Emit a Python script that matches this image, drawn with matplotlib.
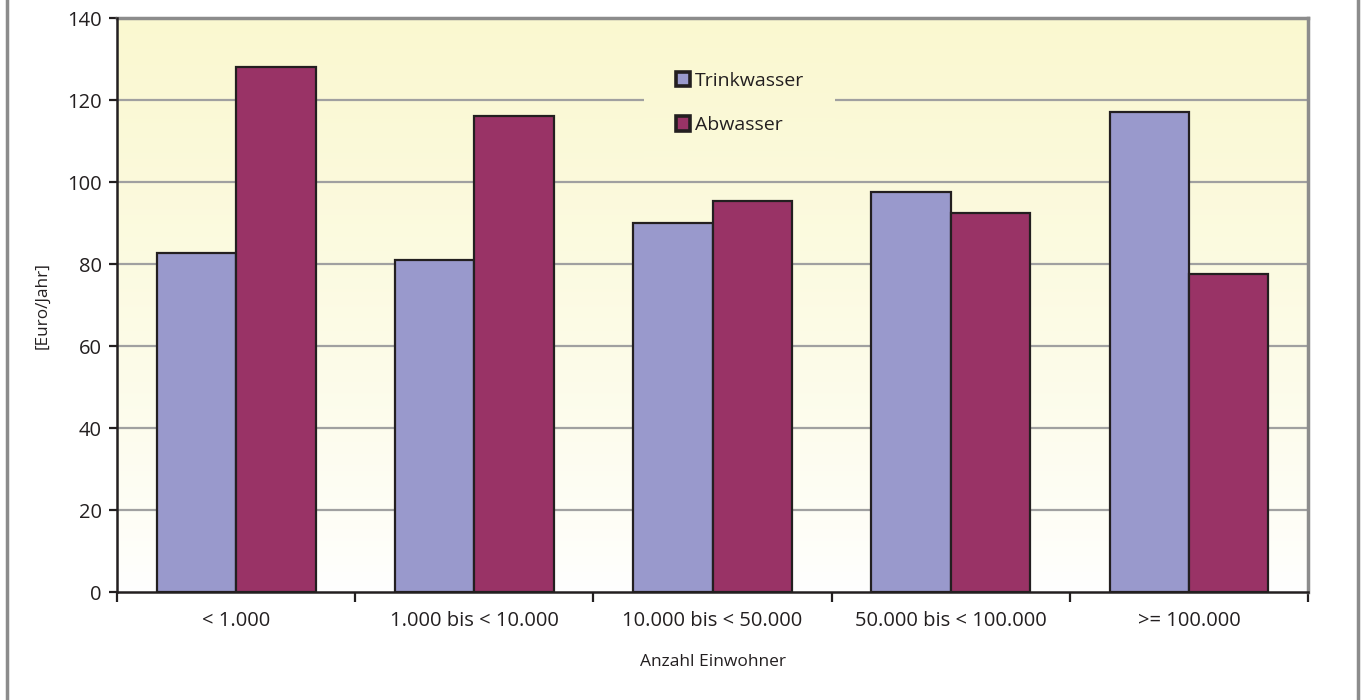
import numpy as np
import matplotlib
matplotlib.use('Agg')
import matplotlib.pyplot as plt
from matplotlib.lines import Line2D

categories = ['< 1.000', '1.000 bis < 10.000', '10.000 bis < 50.000',
              '50.000 bis < 100.000', '>= 100.000']
trinkwasser = [82.8, 81.0, 90.0, 97.6, 117.1]
abwasser = [128.1, 116.1, 95.4, 92.4, 77.6]
yticks = [0, 20, 40, 60, 80, 100, 120, 140]

plt.rcParams['font.family'] = ['Open Sans', 'DejaVu Sans']

fig = plt.figure(figsize=(13.63, 7.0), dpi=100)
ax = fig.add_axes([117 / 1363, 1 - 592 / 700, (1308 - 117) / 1363, (592 - 18) / 700])

n = len(categories)
x = np.arange(n)
w = 1 / 3
ymax = 140

# background gradient: pale yellow at top -> white at bottom
top = np.array([250, 248, 208]) / 255
bot = np.array([255, 255, 255]) / 255


def gradient(y0, y1):
    f = np.linspace(y0, y1, 256) / ymax
    return bot + (top - bot) * (f ** 0.8)[:, None, None]


ax.imshow(gradient(0, ymax), extent=[-0.5, n - 0.5, 0, ymax], origin='lower',
          aspect='auto', zorder=0)

for yv in yticks[1:]:
    ax.axhline(yv, color='#a0a0a0', lw=1.6, zorder=1)

ax.bar(x - w / 2, trinkwasser, w, color='#9999cc', edgecolor='#231f20', lw=1.6,
       zorder=3, label='Trinkwasser')
ax.bar(x + w / 2, abwasser, w, color='#993366', edgecolor='#231f20', lw=1.6,
       zorder=3, label='Abwasser')

ax.set_xlim(-0.5, n - 0.5)
ax.set_ylim(0, ymax)
ax.set_yticks(yticks)
ax.set_xticks(np.arange(n + 1) - 0.5, minor=False)
ax.set_xticklabels([])
ax.set_xticks(x, minor=True)
ax.set_xticklabels(categories, minor=True)
ax.tick_params(axis='x', which='minor', length=0, pad=14, labelsize=14.5, colors='#231f20')
ax.tick_params(axis='x', which='major', length=7, width=1.6, direction='out', color='#231f20')
ax.tick_params(axis='y', length=6, width=1.6, direction='out', color='#231f20',
               labelsize=14.5, labelcolor='#231f20', pad=5)

for s in ['left', 'bottom']:
    ax.spines[s].set_color('#231f20')
    ax.spines[s].set_linewidth(1.8)
    ax.spines[s].set_zorder(4)
for s in ['top', 'right']:
    ax.spines[s].set_color('#8c8c8c')
    ax.spines[s].set_linewidth(2.5)

ax.set_ylabel('[Euro/Jahr]', fontsize=12.3, color='#231f20', labelpad=12)
ax.set_xlabel('Anzahl Einwohner', fontsize=12.5, color='#231f20', labelpad=16)

leg = ax.legend(loc='upper center', bbox_to_anchor=(0.523, 0.96), frameon=False,
                fontsize=14, handlelength=0.75, handleheight=0.75, handletextpad=0.25,
                labelspacing=1.35, borderpad=1.6, borderaxespad=0)
leg.set_zorder(5)
for t in leg.get_texts():
    t.set_color('#231f20')
for h in leg.legend_handles:
    h.set_linewidth(2.6)

# legend area hides the gridline: paint the same gradient over it
fig.canvas.draw()
bb = leg.get_window_extent().transformed(ax.transData.inverted())
ax.imshow(gradient(bb.y0, bb.y1), extent=[bb.x0, bb.x1, bb.y0, bb.y1], origin='lower',
          aspect='auto', zorder=2)
ax.set_xlim(-0.5, n - 0.5)
ax.set_ylim(0, ymax)

# gray side borders of the chart area
for xp in [7 / 1363, 1358 / 1363]:
    fig.add_artist(Line2D([xp, xp], [0, 1], color='#8c8c8c', lw=2.5, transform=fig.transFigure))

fig.savefig('out.png', dpi=100)
